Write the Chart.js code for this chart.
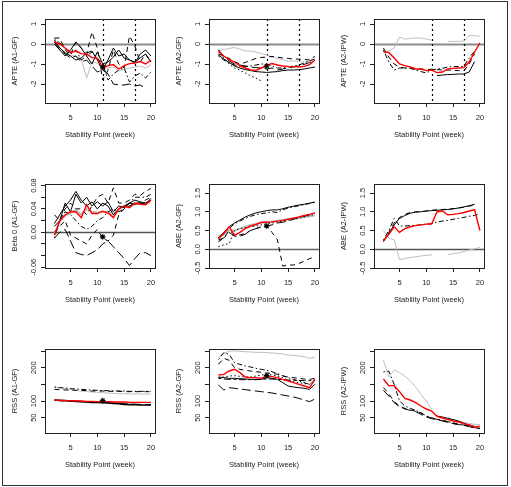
<!DOCTYPE html>
<html>
<head>
<meta charset="utf-8">
<script src="https://cdn.jsdelivr.net/npm/chart.js@4.4.1/dist/chart.umd.min.js"></script>
<style>
    body { margin: 0; background: #fff; }
    #frame { position: absolute; left: 2px; top: 1px; width: 504px; height: 483px; border: 1px solid #333; }
    canvas { position: absolute; }
</style>
</head>
<body>
<div id="frame"></div>
<script>
const weeks = [2, 3, 4, 5, 6, 7, 8, 9, 10, 11, 12, 13, 14, 15, 16, 17, 18, 19, 20];
const xTicks = [5, 10, 15, 20];
const _ = null;

// APTE (A1-GF)
const apteA1gfRed = [0.12, 0.0, -0.2, -0.42, -0.35, -0.48, -0.5, -0.68, -0.72, -1.2, -1.08, -1.03, -1.25, -1.08, -0.98, -0.95, -0.88, -1.0, -0.8];
const apteA1gfGray = [-0.05, -0.2, -0.4, -0.55, -0.6, -0.75, -1.7, -0.9, -0.95, -1.3, -1.2, -1.15, -1.35, -1.25, -1.2, -1.15, -1.1, -1.2, -1.05];
const apteA1gfSolid1 = [0.2, -0.2, -0.45, -0.6, -0.8, -0.7, -0.45, -0.35, -0.8, -1.3, -0.8, -0.2, -0.6, -0.5, -0.8, -0.95, -0.5, -0.3, -0.6];
const apteA1gfSolid2 = [0.0, -0.3, -0.6, -0.3, 0.1, -0.2, -0.6, -1.0, -0.4, -1.0, -0.9, -0.65, -0.3, -0.7, -0.8, -0.9, -0.7, -0.5, -0.9];
const apteA1gfDash = [0.3, 0.3, -0.3, -0.55, 0.1, -0.2, -0.5, 0.6, -0.2, -1.8, -1.3, -0.3, -1.0, -1.2, 0.4, -0.1, -0.9, -0.5, -0.9];
const apteA1gfDotDash = [0.25, 0.05, -0.2, -0.5, -0.3, -0.8, -0.6, -0.4, -0.7, -1.0, -1.8, -1.5, -1.3, -1.2, -1.9, -1.6, -1.45, -1.7, -1.4];
const apteA1gfLongDash = [0.1, -0.3, -0.5, -0.7, -0.6, -0.9, -0.8, -1.1, -1.4, -1.3, -1.5, -2.0, -2.05, -2.05, -2.0, -2.1, -2.05, -2.2, _];

// APTE (A2-GF)
const apteA2gfRed = [-0.37, -0.6, -0.78, -0.9, -1.1, -1.2, -1.3, -1.32, -1.2, -1.07, -0.98, -1.05, -1.1, -1.12, -1.13, -1.15, -1.12, -1.03, -0.8];
const apteA2gfGray = [-0.3, -0.28, -0.22, -0.18, -0.25, -0.35, -0.35, -0.4, -0.48, -0.55, -0.65, -0.72, -0.8, -0.85, -0.85, -0.88, -0.9, -0.85, -0.6];
const apteA2gfDash = [-0.5, -0.6, -0.72, -0.88, -1.0, -0.92, -0.82, -0.72, -0.67, -0.66, -0.62, -0.66, -0.7, -0.72, -0.75, -0.76, -0.77, -0.8, -0.62];
const apteA2gfSolid = [-0.55, -0.75, -0.92, -1.1, -1.2, -1.28, -1.33, -1.38, -1.4, -1.42, -1.4, -1.38, -1.33, -1.3, -1.3, -1.28, -1.25, -1.2, -1.15];
const apteA2gfLongDash = [-0.3, -0.6, -0.85, -1.0, -1.05, -1.1, -1.15, -1.18, -1.2, -1.25, -1.2, -1.3, -1.25, -1.2, -1.15, -1.1, -1.02, -0.92, -0.85];
const apteA2gfDotted = [-0.3, -0.7, -1.0, -1.2, -1.3, -1.45, -1.6, -1.7, -1.85, _, _, _, _, _, _, _, _, _, _];
const apteA2gfDotDash = [-0.6, -0.8, -0.95, -1.05, -1.1, -1.12, -1.1, -1.05, -1.0, -1.0, -1.1, -1.2, -1.2, -1.15, -1.1, -1.05, -0.95, -0.85, -0.75];

// APTE (A2-IPW)
const apteIpwRed = [-0.4, -0.42, -0.7, -1.0, -1.08, -1.15, -1.25, -1.25, -1.33, -1.3, -1.43, -1.4, -1.25, -1.22, -1.2, -1.18, -0.9, -0.4, 0.05];
const apteIpwGray = [-0.37, -0.35, -0.2, 0.35, 0.25, 0.28, 0.3, 0.3, 0.25, 0.18, _, _, 0.13, 0.13, 0.13, 0.15, 0.42, 0.42, 0.38];
const apteIpwDotDash = [-0.3, -0.9, -1.3, -1.2, -1.2, -1.22, -1.3, -1.38, -1.45, -1.3, -1.25, -1.22, -1.15, -1.13, -1.12, -1.12, -0.7, -0.35, _];
const apteIpwDash = [-0.2, -0.65, -1.0, -1.15, -1.2, -1.2, -1.22, -1.25, -1.28, -1.26, -1.28, -1.3, -1.3, -1.32, -1.33, -1.35, -1.0, -0.5, _];
const apteIpwSolid = [_, _, _, _, _, _, _, _, _, _, -1.58, -1.55, -1.53, -1.52, -1.5, -1.5, -1.4, -0.88, _];

// Beta 0 (A1-GF)
const betaRed = [-0.005, 0.02, 0.03, 0.035, 0.035, 0.025, 0.047, 0.032, 0.032, 0.036, 0.033, 0.025, 0.04, 0.045, 0.042, 0.05, 0.048, 0.047, 0.055];
const betaGray = [-0.003, 0.018, 0.028, 0.033, 0.038, 0.03, 0.04, 0.035, 0.034, 0.035, 0.035, 0.03, 0.04, 0.044, 0.045, 0.048, 0.05, 0.05, 0.053];
const betaSolid1 = [0.01, 0.02, 0.05, 0.035, 0.065, 0.05, 0.06, 0.045, 0.052, 0.045, 0.052, 0.035, 0.045, 0.042, 0.05, 0.048, 0.05, 0.048, 0.058];
const betaSolid2 = [0.015, 0.03, 0.045, 0.055, 0.07, 0.055, 0.045, 0.052, 0.04, 0.05, 0.045, 0.03, 0.04, 0.045, 0.05, 0.055, 0.052, 0.05, 0.055];
const betaDash = [0.03, 0.02, 0.04, 0.05, 0.04, 0.04, 0.03, 0.045, 0.06, 0.065, 0.05, 0.076, 0.05, 0.05, 0.055, 0.065, 0.063, 0.07, 0.075];
const betaDotDash = [-0.01, 0.02, 0.035, 0.03, 0.02, 0.01, 0.005, 0.01, 0.02, 0.025, 0.035, 0.04, 0.035, 0.04, 0.05, 0.06, 0.06, 0.06, 0.065];
const betaLongDash = [-0.01, 0.0, 0.005, -0.015, -0.035, -0.038, -0.04, -0.035, -0.03, -0.02, -0.015, -0.025, -0.035, -0.045, -0.057, -0.045, -0.035, -0.035, -0.04];
const betaDash2 = [0.0, 0.01, 0.02, -0.005, -0.01, -0.015, -0.02, -0.005, 0.005, -0.01, -0.015, -0.005, 0.03, 0.04, 0.045, 0.05, 0.05, 0.055, 0.06];

// ABE (A2-GF)
const abeGfRed = [0.28, 0.42, 0.6, 0.37, 0.45, 0.55, 0.62, 0.66, 0.72, 0.72, 0.73, 0.75, 0.77, 0.8, 0.83, 0.86, 0.9, 0.93, 0.97];
const abeGfGray = [0.35, 0.4, 0.5, 0.5, 0.55, 0.6, 0.65, 0.68, 0.7, 0.72, 0.74, 0.76, 0.78, 0.8, 0.82, 0.84, 0.86, 0.88, 0.9];
const abeGfSolid = [0.3, 0.45, 0.6, 0.7, 0.78, 0.86, 0.92, 0.97, 1.0, 1.03, 1.05, 1.05, 1.08, 1.12, 1.15, 1.18, 1.2, 1.23, 1.26];
const abeGfDash = [0.3, 0.42, 0.55, 0.68, 0.75, 0.82, 0.88, 0.92, 0.95, 0.97, 1.0, 0.98, 1.05, 1.1, 1.13, 1.16, 1.19, 1.22, 1.25];
const abeGfDrop = [0.2, 0.3, 0.5, 0.4, 0.38, 0.42, 0.5, 0.55, 0.6, 0.62, 0.45, 0.25, -0.45, -0.42, -0.42, -0.38, -0.32, -0.25, -0.2];
const abeGfDotted = [0.07, 0.12, 0.15, 0.5, 0.55, 0.58, 0.6, 0.62, 0.65, 0.68, 0.7, 0.72, 0.75, 0.78, 0.8, 0.83, 0.86, 0.9, 0.93];
const abeGfLongDash = [0.25, 0.3, 0.45, 0.35, 0.35, 0.4, 0.5, 0.55, 0.6, 0.62, 0.65, 0.7, 0.72, 0.75, 0.8, 0.84, 0.88, 0.92, 0.95];

// ABE (A2-IPW)
const abeIpwRed = [0.22, 0.4, 0.6, 0.45, 0.55, 0.6, 0.63, 0.65, 0.67, 0.68, 1.0, 1.02, 0.92, 0.93, 0.95, 0.98, 1.02, 1.05, 0.5];
const abeIpwGray = [0.5, 0.3, 0.25, -0.28, -0.25, -0.22, -0.2, -0.18, -0.16, -0.15, _, _, -0.14, -0.12, -0.1, -0.06, -0.02, 0.01, 0.05];
const abeIpwDash = [0.2, 0.45, 0.7, 0.85, 0.93, 0.98, 1.0, 1.0, 1.02, 1.04, 1.05, 1.06, 1.07, 1.08, 1.1, 1.12, 1.15, 1.18, _];
const abeIpwSolid = [0.22, 0.42, 0.65, 0.82, 0.9, 0.96, 0.99, 1.0, 1.02, 1.03, 1.04, 1.05, 1.06, 1.08, 1.1, 1.13, 1.16, 1.2, _];
const abeIpwDotDash = [0.25, 0.5, 0.82, 0.62, 0.62, 0.63, 0.64, 0.65, 0.67, 0.68, 0.73, 0.75, 0.77, 0.8, 0.82, 0.85, 0.88, 0.9, 0.95];

// RSS (A1-GF)
const rssA1Red = [103, 102, 101, 101, 100, 100, 99, 99, 98, 98, 98, 97, 97, 97, 96, 96, 96, 96, 96];
const rssA1Gray = [142, 140, 137, 134, 132, 130, 128, 127, 126, 125, 124, 123, 122, 122, 121, 121, 121, 121, 121];
const rssA1DotDash = [142, 140, 139, 137, 136, 135, 134, 133, 132, 131, 131, 130, 130, 130, 129, 129, 129, 129, 129];
const rssA1Dash = [135, 134, 133, 133, 132, 132, 131, 130, 130, 130, 129, 129, 129, 128, 128, 128, 128, 128, 128];
const rssA1Solid = [103, 102, 101, 100, 99, 98, 97, 96, 96, 95, 94, 93, 92, 90, 89, 89, 88, 88, 88];
const rssA1LongDash = [102, 101, 100, 100, 99, 98, 97, 97, 96, 100, 95, 94, 93, 92, 91, 90, 90, 89, 89];

// RSS (A2-GF)
const rssA2Gray = [232, 242, 250, 250, 249, 248, 247, 246, 246, 245, 244, 243, 241, 238, 237, 235, 233, 228, 232];
const rssA2DotDash = [225, 245, 240, 215, 210, 205, 202, 198, 195, 192, 188, 182, 176, 170, 165, 160, 155, 150, 165];
const rssA2Dash = [210, 228, 222, 200, 195, 192, 190, 188, 186, 184, 183, 180, 175, 172, 170, 168, 166, 165, 168];
const rssA2Red = [178, 180, 190, 195, 185, 172, 170, 170, 168, 175, 173, 170, 165, 160, 155, 150, 145, 140, 165];
const rssA2Dotted = [170, 172, 175, 176, 174, 172, 172, 175, 178, 180, 178, 175, 170, 162, 158, 155, 152, 150, 162];
const rssA2Solid = [172, 170, 168, 168, 167, 166, 165, 165, 165, 170, 168, 165, 155, 145, 142, 140, 138, 135, 150];
const rssA2TwoDash = [168, 166, 165, 165, 164, 164, 164, 164, 165, 166, 166, 165, 164, 163, 162, 162, 161, 161, 162];
const rssA2LongDash = [148, 133, 140, 138, 136, 134, 132, 130, 128, 126, 124, 121, 118, 115, 112, 108, 103, 98, 106];

// RSS (A2-IPW)
const rssIpwGray = [222, 172, 193, 185, 175, 160, 143, 120, 100, 75, _, _, 50, 45, 40, 36, 33, 30, 29];
const rssIpwRed = [166, 146, 146, 128, 108, 103, 95, 85, 76, 70, 54, 49, 45, 40, 37, 32, 28, 22, 24];
const rssIpwDotDash = [187, 190, 150, 100, 85, 78, 72, 65, 55, 50, 45, 42, 38, 35, 30, 28, 25, 20, 18];
const rssIpwDash = [140, 122, 98, 85, 78, 73, 70, 64, 55, 48, 45, 42, 38, 33, 30, 28, 25, 20, 18];
const rssIpwLongDash = [132, 115, 95, 83, 76, 72, 68, 60, 52, 47, 44, 40, 36, 32, 29, 27, 23, 19, 17];
const rssIpwSolid = [_, _, _, _, _, _, _, _, _, _, 55, 52, 48, 44, 40, 33, 28, 24, _];

// y axis ticks and labels
const apteTicks = [-2, -1, 0, 1];
const apteLabels = ['-2', '-1', '0', '1'];
const betaTicks = [-0.06, -0.04, -0.02, 0, 0.02, 0.04, 0.06, 0.08];
const betaLabels = ['-0.06', '', '', '0.00', '', '0.04', '', '0.08'];
const abeTicks = [-0.5, 0, 0.5, 1, 1.5];
const abeLabels = ['-0.5', '0.0', '0.5', '1.0', '1.5'];
const rssTicks = [50, 100, 150, 200, 250];
const rssLabels = ['50', '100', '', '200', ''];

const DASH = {
    solid: [],
    dashed: [5, 4],
    dotted: [1.5, 2.5],
    dotdash: [1.5, 2.5, 5, 2.5],
    longdash: [9, 4],
    twodash: [3, 2.5, 7, 2.5]
};
const COLOR = { red: '#ff0000', gray: '#bebebe', black: '#000000' };

const FONT = '7.5px "Liberation Sans", Arial, sans-serif';
const plotLefts = [45, 209, 374];
const plotTops = [19, 184, 349];
const plotW = 110, plotH = 84;

const rStyle = {
    id: 'rStyle',
    beforeDatasetsDraw(chart) {
        const o = chart.options.plugins.rStyle;
        const { ctx, chartArea: a, scales: { x, y } } = chart;
        ctx.save();
        if (o.zero) {
            const py = Math.round(y.getPixelForValue(0)) + 0.5;
            ctx.strokeStyle = o.zero.color;
            ctx.lineWidth = o.zero.width;
            ctx.beginPath();
            ctx.moveTo(a.left, py);
            ctx.lineTo(a.right, py);
            ctx.stroke();
        }
        ctx.strokeStyle = '#000';
        ctx.lineWidth = 1.2;
        ctx.setLineDash([2, 3]);
        o.vlines.forEach(v => {
            const px = Math.round(x.getPixelForValue(v)) + 0.5;
            ctx.beginPath();
            ctx.moveTo(px, a.top);
            ctx.lineTo(px, a.bottom);
            ctx.stroke();
        });
        ctx.restore();
    },
    afterDraw(chart) {
        const o = chart.options.plugins.rStyle;
        const { ctx, chartArea: a, scales: { x, y } } = chart;
        ctx.save();
        ctx.strokeStyle = '#222';
        ctx.lineWidth = 1;
        ctx.strokeRect(Math.round(a.left) + 0.5, Math.round(a.top) + 0.5, Math.round(a.right - a.left), Math.round(a.bottom - a.top));

        ctx.fillStyle = '#222';
        ctx.font = FONT;
        ctx.textAlign = 'center';
        ctx.textBaseline = 'middle';
        xTicks.forEach(v => ctx.fillText(String(v), x.getPixelForValue(v), a.bottom + 14.5));
        ctx.fillText('Stability Point (week)', (a.left + a.right) / 2, a.bottom + 32);

        o.yTicks.forEach((v, i) => {
            if (!o.yLabels[i]) return;
            ctx.save();
            ctx.translate(a.left - 11.5, y.getPixelForValue(v));
            ctx.rotate(-Math.PI / 2);
            ctx.fillText(o.yLabels[i], 0, 0);
            ctx.restore();
        });
        ctx.translate(a.left - 30, (a.top + a.bottom) / 2);
        ctx.rotate(-Math.PI / 2);
        ctx.fillText(o.title, 0, 0);
        ctx.restore();
    }
};

function line(values, color, style, width) {
    return {
        data: weeks.map((w, i) => ({ x: w, y: values[i] })),
        borderColor: COLOR[color],
        borderWidth: width || (color === 'red' ? 1.4 : 1),
        borderDash: DASH[style],
        pointRadius: 0,
        tension: 0,
        spanGaps: false,
        fill: false
    };
}

function star(value) {
    return {
        data: [{ x: 11, y: value }],
        showLine: false,
        pointStyle: 'star',
        pointRadius: 2.8,
        borderColor: '#000',
        borderWidth: 1.1
    };
}

const panels = [
    {
        col: 0, row: 0, title: 'APTE (A1-GF)', yMin: -2.95, yMax: 1.25, yTicks: apteTicks, yLabels: apteLabels,
        zero: { color: '#8a8a8a', width: 2 }, vlines: [11, 17], star: -1.15,
        lines: [
            line(apteA1gfRed, 'red', 'solid'),
            line(apteA1gfSolid1, 'black', 'solid'),
            line(apteA1gfSolid2, 'black', 'solid'),
            line(apteA1gfDash, 'black', 'dashed'),
            line(apteA1gfDotDash, 'black', 'dotdash'),
            line(apteA1gfLongDash, 'black', 'longdash'),
            line(apteA1gfGray, 'gray', 'solid')
        ]
    },
    {
        col: 1, row: 0, title: 'APTE (A2-GF)', yMin: -2.95, yMax: 1.25, yTicks: apteTicks, yLabels: apteLabels,
        zero: { color: '#8a8a8a', width: 2 }, vlines: [11, 17], star: -1.1,
        lines: [
            line(apteA2gfRed, 'red', 'solid'),
            line(apteA2gfDash, 'black', 'dashed'),
            line(apteA2gfSolid, 'black', 'solid'),
            line(apteA2gfLongDash, 'black', 'longdash'),
            line(apteA2gfDotted, 'black', 'dotted'),
            line(apteA2gfDotDash, 'black', 'dotdash'),
            line(apteA2gfGray, 'gray', 'solid')
        ]
    },
    {
        col: 2, row: 0, title: 'APTE (A2-IPW)', yMin: -2.95, yMax: 1.25, yTicks: apteTicks, yLabels: apteLabels,
        zero: { color: '#8a8a8a', width: 2 }, vlines: [11, 17], star: null,
        lines: [
            line(apteIpwRed, 'red', 'solid'),
            line(apteIpwDotDash, 'black', 'dotdash'),
            line(apteIpwDash, 'black', 'dashed'),
            line(apteIpwSolid, 'black', 'solid'),
            line(apteIpwGray, 'gray', 'solid')
        ]
    },
    {
        col: 0, row: 1, title: 'Beta 0 (A1-GF)', yMin: -0.0612, yMax: 0.0826, yTicks: betaTicks, yLabels: betaLabels,
        zero: { color: '#555', width: 1.3 }, vlines: [], star: -0.008,
        lines: [
            line(betaRed, 'red', 'solid'),
            line(betaSolid1, 'black', 'solid'),
            line(betaSolid2, 'black', 'solid'),
            line(betaDash, 'black', 'dashed'),
            line(betaDotDash, 'black', 'dotdash'),
            line(betaLongDash, 'black', 'longdash'),
            line(betaDash2, 'black', 'dashed'),
            line(betaGray, 'gray', 'solid', 2)
        ]
    },
    {
        col: 1, row: 1, title: 'ABE (A2-GF)', yMin: -0.5, yMax: 1.74, yTicks: abeTicks, yLabels: abeLabels,
        zero: { color: '#666', width: 1.3 }, vlines: [], star: 0.62,
        lines: [
            line(abeGfRed, 'red', 'solid'),
            line(abeGfSolid, 'black', 'solid'),
            line(abeGfDash, 'black', 'dotdash'),
            line(abeGfDrop, 'black', 'dashed'),
            line(abeGfDotted, 'black', 'dotted'),
            line(abeGfLongDash, 'black', 'longdash'),
            line(abeGfGray, 'gray', 'solid', 2)
        ]
    },
    {
        col: 2, row: 1, title: 'ABE (A2-IPW)', yMin: -0.5, yMax: 1.74, yTicks: abeTicks, yLabels: abeLabels,
        zero: { color: '#555', width: 1.3 }, vlines: [], star: null,
        lines: [
            line(abeIpwRed, 'red', 'solid'),
            line(abeIpwDash, 'black', 'dashed'),
            line(abeIpwSolid, 'black', 'solid'),
            line(abeIpwDotDash, 'black', 'dotdash'),
            line(abeIpwGray, 'gray', 'solid')
        ]
    },
    {
        col: 0, row: 2, title: 'RSS (A1-GF)', yMin: 4, yMax: 256, yTicks: rssTicks, yLabels: rssLabels,
        zero: null, vlines: [], star: 101,
        lines: [
            line(rssA1Red, 'red', 'solid'),
            line(rssA1Solid, 'black', 'solid', 1.6),
            line(rssA1LongDash, 'black', 'longdash'),
            line(rssA1DotDash, 'black', 'dotdash'),
            line(rssA1Dash, 'black', 'dashed'),
            line(rssA1Gray, 'gray', 'solid')
        ]
    },
    {
        col: 1, row: 2, title: 'RSS (A2-GF)', yMin: 4, yMax: 256, yTicks: rssTicks, yLabels: rssLabels,
        zero: null, vlines: [], star: 176,
        lines: [
            line(rssA2Red, 'red', 'solid'),
            line(rssA2DotDash, 'black', 'dotdash'),
            line(rssA2Dash, 'black', 'dashed'),
            line(rssA2Dotted, 'black', 'dotted'),
            line(rssA2Solid, 'black', 'solid'),
            line(rssA2TwoDash, 'black', 'twodash'),
            line(rssA2LongDash, 'black', 'longdash'),
            line(rssA2Gray, 'gray', 'solid')
        ]
    },
    {
        col: 2, row: 2, title: 'RSS (A2-IPW)', yMin: 4, yMax: 256, yTicks: rssTicks, yLabels: rssLabels,
        zero: null, vlines: [], star: null,
        lines: [
            line(rssIpwRed, 'red', 'solid'),
            line(rssIpwDotDash, 'black', 'dotdash'),
            line(rssIpwDash, 'black', 'dashed'),
            line(rssIpwLongDash, 'black', 'longdash'),
            line(rssIpwSolid, 'black', 'solid'),
            line(rssIpwGray, 'gray', 'solid')
        ]
    }
];

const canvasW = 172, canvasH = 160, offL = 50, offT = 20, axisW = 6;

panels.forEach((p) => {
    const canvas = document.createElement('canvas');
    canvas.width = canvasW;
    canvas.height = canvasH;
    canvas.style.left = (plotLefts[p.col] - offL) + 'px';
    canvas.style.top = (plotTops[p.row] - offT) + 'px';
    canvas.style.width = canvasW + 'px';
    canvas.style.height = canvasH + 'px';
    document.body.appendChild(canvas);

    let datasets = p.lines.slice();
    if (p.star !== null) {
        datasets.unshift(star(p.star));
    }

    new Chart(canvas, {
        type: 'line',
        data: { datasets },
        options: {
            responsive: false,
            animation: false,
            devicePixelRatio: 1,
            layout: {
                padding: {
                    left: offL - axisW,
                    top: offT,
                    right: canvasW - offL - plotW,
                    bottom: canvasH - offT - plotH - axisW
                }
            },
            plugins: {
                legend: { display: false },
                tooltip: { enabled: false },
                rStyle: { title: p.title, yTicks: p.yTicks, yLabels: p.yLabels, zero: p.zero, vlines: p.vlines }
            },
            scales: {
                x: {
                    type: 'linear',
                    min: 0.24,
                    max: 20.76,
                    afterBuildTicks: (scale) => { scale.ticks = xTicks.map(v => ({ value: v })); },
                    afterFit: (scale) => { scale.height = axisW; },
                    ticks: { display: false },
                    grid: { drawOnChartArea: false, tickLength: 4, color: '#222', lineWidth: 1 },
                    border: { display: false }
                },
                y: {
                    type: 'linear',
                    min: p.yMin,
                    max: p.yMax,
                    afterBuildTicks: (scale) => { scale.ticks = p.yTicks.map(v => ({ value: v })); },
                    afterFit: (scale) => { scale.width = axisW; },
                    ticks: { display: false },
                    grid: { drawOnChartArea: false, tickLength: 4, color: '#222', lineWidth: 1 },
                    border: { display: false }
                }
            }
        },
        plugins: [rStyle]
    });
});
</script>
</body>
</html>
